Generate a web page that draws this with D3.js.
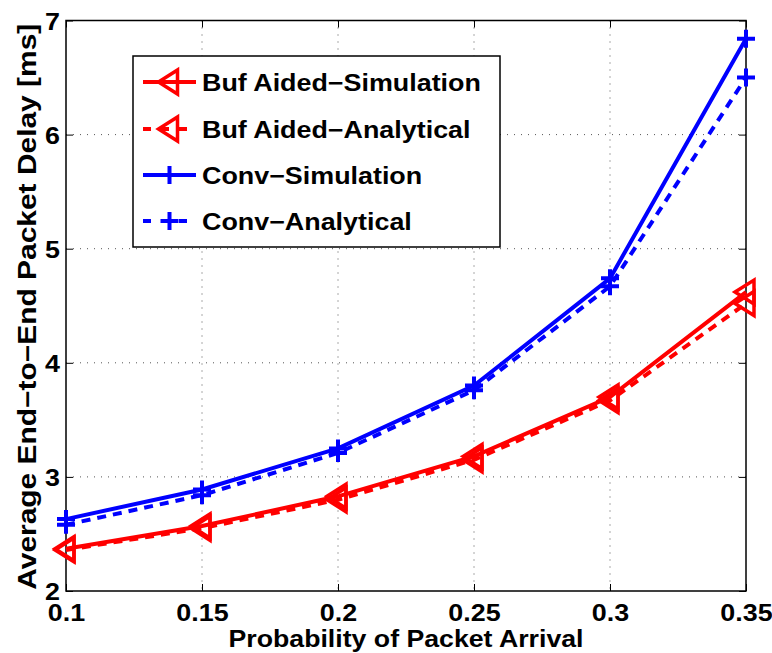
<!DOCTYPE html>
<html>
<head>
<meta charset="utf-8">
<script src="https://cdn.jsdelivr.net/npm/d3@7"></script>
<style>
  html, body { margin: 0; padding: 0; background: #fff; }
  svg { display: block; }
  text { font-family: "Liberation Sans", Arial, Helvetica, sans-serif; font-weight: bold; }
</style>
</head>
<body>
<svg id="chart" width="772" height="653"></svg>
<script>
// Arrival probabilities (x axis)
const arrivalProb = [0.1, 0.15, 0.2, 0.25, 0.3, 0.35];

// Average end-to-end packet delay [ms] for each scheme
const bufAidedSim  = [2.37, 2.57, 2.83, 3.18, 3.70, 4.62];
const bufAidedAna  = [2.36, 2.55, 2.80, 3.15, 3.67, 4.52];
const convSim      = [2.63, 2.89, 3.25, 3.80, 4.74, 6.84];
const convAna      = [2.58, 2.84, 3.21, 3.76, 4.67, 6.50];

// Tick labels
const xTicks = [0.1, 0.15, 0.2, 0.25, 0.3, 0.35];
const xTickLabels = ["0.1", "0.15", "0.2", "0.25", "0.3", "0.35"];
const yTicks = [2, 3, 4, 5, 6, 7];

const seriesNames = ["Buf Aided\u2212Simulation", "Buf Aided\u2212Analytical", "Conv\u2212Simulation", "Conv\u2212Analytical"];

const series = [
  { name: seriesNames[0], values: bufAidedSim, color: "#ff0000", dash: null,  marker: "tri" },
  { name: seriesNames[1], values: bufAidedAna, color: "#ff0000", dash: "9,7", marker: "tri" },
  { name: seriesNames[2], values: convSim,     color: "#0000ff", dash: null,  marker: "plus" },
  { name: seriesNames[3], values: convAna,     color: "#0000ff", dash: "9,7", marker: "plus" }
];

const svg = d3.select("#chart");
const plot = { left: 66, top: 20.5, right: 746, bottom: 591 };
const fontSize = 24;
const stretch = 1.12;   // wide Helvetica-like lettering

const x = d3.scaleLinear().domain([0.1, 0.35]).range([plot.left, plot.right]);
const y = d3.scaleLinear().domain([2, 7]).range([plot.bottom, plot.top]);

// Dotted grid
const grid = svg.append("g");
grid.selectAll("line.gx").data(xTicks.slice(1, -1)).enter().append("line")
  .attr("x1", d => x(d)).attr("x2", d => x(d))
  .attr("y1", plot.top).attr("y2", plot.bottom)
  .attr("stroke", "#555").attr("stroke-width", 1).attr("stroke-dasharray", "1,6");
grid.selectAll("line.gy").data(yTicks.slice(1, -1)).enter().append("line")
  .attr("x1", plot.left).attr("x2", plot.right)
  .attr("y1", d => y(d)).attr("y2", d => y(d))
  .attr("stroke", "#555").attr("stroke-width", 1).attr("stroke-dasharray", "1,6");

// Axes with inward ticks on all four sides
const tickLen = 7;
const axB = svg.append("g").attr("transform", `translate(0,${plot.bottom})`)
  .call(d3.axisBottom(x).tickValues(xTicks).tickSizeInner(-tickLen).tickSizeOuter(0)
    .tickFormat((d, i) => xTickLabels[i]));
const axT = svg.append("g").attr("transform", `translate(0,${plot.top})`)
  .call(d3.axisTop(x).tickValues(xTicks).tickSizeInner(-tickLen).tickSizeOuter(0).tickFormat(""));
const axL = svg.append("g").attr("transform", `translate(${plot.left},0)`)
  .call(d3.axisLeft(y).tickValues(yTicks).tickSizeInner(-tickLen).tickSizeOuter(0)
    .tickFormat(d3.format("d")));
const axR = svg.append("g").attr("transform", `translate(${plot.right},0)`)
  .call(d3.axisRight(y).tickValues(yTicks).tickSizeInner(-tickLen).tickSizeOuter(0).tickFormat(""));

[axB, axT, axL, axR].forEach(a => {
  a.select(".domain").remove();
  a.selectAll(".tick line").attr("stroke", "#000").attr("stroke-width", 1);
  a.selectAll("text").attr("font-size", fontSize).attr("fill", "#000")
    .style("font-family", "'Liberation Sans', Arial, sans-serif").style("font-weight", "bold");
});
axB.selectAll("text").attr("y", 30).attr("dy", null)
  .attr("transform", `scale(${stretch},1)`);
axL.selectAll("text").attr("x", -6 / stretch).attr("dy", "0.36em")
  .attr("transform", `scale(${stretch},1)`);

// Axes box
svg.append("rect")
  .attr("x", plot.left).attr("y", plot.top)
  .attr("width", plot.right - plot.left).attr("height", plot.bottom - plot.top)
  .attr("fill", "none").attr("stroke", "#000").attr("stroke-width", 1.5);

// Lines
const line = d3.line().x((d, i) => x(arrivalProb[i])).y(d => y(d));

const g = svg.append("g");
series.forEach(s => {
  g.append("path").datum(s.values)
    .attr("d", line)
    .attr("fill", "none").attr("stroke", s.color).attr("stroke-width", 4)
    .attr("stroke-dasharray", s.dash);
});

// Markers
function drawMarker(sel, type, cx, cy, color) {
  if (type === "tri") {
    const pts = [[cx - 11, cy], [cx + 8, cy - 12], [cx + 8, cy + 12]];
    sel.append("path")
      .attr("d", "M" + pts.map(p => p.join(",")).join("L") + "Z")
      .attr("fill", "none").attr("stroke", color).attr("stroke-width", 3.5)
      .attr("stroke-linejoin", "miter");
  } else {
    sel.append("path")
      .attr("d", `M${cx - 9},${cy}H${cx + 9}M${cx},${cy - 9}V${cy + 9}`)
      .attr("fill", "none").attr("stroke", color).attr("stroke-width", 4);
  }
}

series.forEach(s => {
  s.values.forEach((v, i) => drawMarker(g, s.marker, x(arrivalProb[i]), y(v), s.color));
});

// Axis titles
svg.append("text")
  .attr("x", (plot.left + plot.right) / 2).attr("y", 647)
  .attr("text-anchor", "middle").attr("font-size", fontSize)
  .attr("textLength", 355).attr("lengthAdjust", "spacingAndGlyphs")
  .text("Probability of Packet Arrival");

svg.append("text")
  .attr("transform", `translate(36,${(plot.top + plot.bottom) / 2 + 1}) rotate(-90)`)
  .attr("text-anchor", "middle").attr("font-size", 25)
  .attr("textLength", 566).attr("lengthAdjust", "spacingAndGlyphs")
  .text("Average End\u2212to\u2212End Packet Delay [ms]");

// Legend
const legend = { x: 133, y: 56, w: 367, h: 191 };
const lg = svg.append("g");
lg.append("rect")
  .attr("x", legend.x).attr("y", legend.y).attr("width", legend.w).attr("height", legend.h)
  .attr("fill", "#fff").attr("stroke", "#000").attr("stroke-width", 1.5);

const rowY = [82, 129, 175, 221];
series.forEach((s, i) => {
  const yy = rowY[i];
  lg.append("line")
    .attr("x1", 143).attr("x2", 196).attr("y1", yy).attr("y2", yy)
    .attr("stroke", s.color).attr("stroke-width", 4)
    .attr("stroke-dasharray", s.dash ? "8,10" : null);
  drawMarker(lg, s.marker, 169.5, yy, s.color);
  lg.append("text")
    .attr("transform", `translate(202,${yy}) scale(${stretch},1)`)
    .attr("dy", "0.36em")
    .attr("font-size", fontSize).text(s.name);
});
</script>
</body>
</html>
